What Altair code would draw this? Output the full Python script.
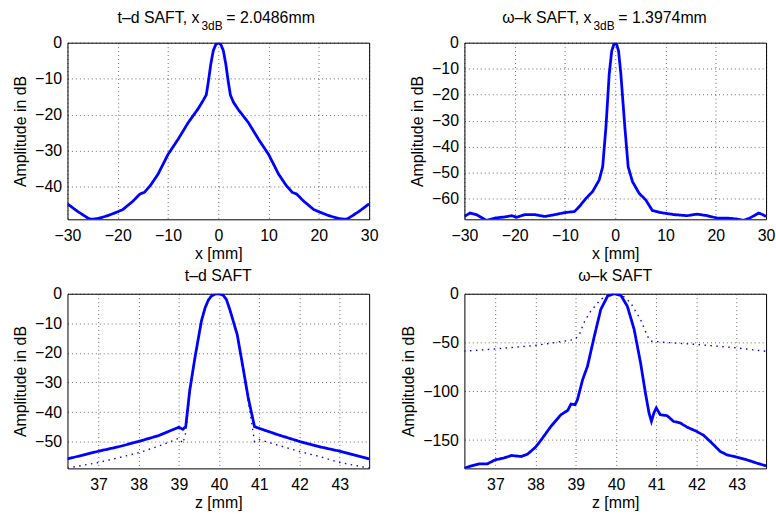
import altair as alt
import pandas as pd

# ---------------- data ----------------
# top-left: t-d SAFT lateral profile
tdl_x = [-30, -28, -26, -25.4, -24, -22, -20, -19, -17, -15.6, -14.7, -13.5, -12, -10, -8, -6, -4, -3, -2.4, -2,
         -1.5, -1, -0.5, 0, 0.5, 1, 1.5, 2, 2.4, 3, 4, 6, 8, 10, 12, 13.5, 14.7, 15.6, 17, 19, 20, 22, 24, 25.4,
         26, 28, 30]
tdl_db = [-44.7, -46.8, -48.6, -49.0, -48.8, -48.0, -46.9, -46.3, -44.0, -42.0, -41.5, -39.6, -36.5, -31.0, -26.8,
          -22.2, -18.3, -16.0, -14.5, -11.0, -6.0, -2.2, -0.5, 0, -0.5, -2.2, -6.0, -11.0, -14.5, -16.5, -18.6,
          -22.2, -26.8, -31.0, -36.5, -39.6, -41.5, -42.0, -44.0, -46.3, -46.9, -48.0, -48.8, -49.0, -48.6, -46.8,
          -44.7]

# top-right: omega-k SAFT lateral profile
wkl_x = [-30, -28.9, -27.6, -25.6, -23.9, -22, -20.6, -19.6, -18, -16, -14, -12, -10, -8.1, -7.1, -5.8, -4.5,
         -3.2, -2.5, -1.85, -1.2, -0.7, -0.3, 0, 0.3, 0.66, 1.12, 1.91, 2.57, 3.43, 4.75, 6.06, 7.38, 9.0, 11.7,
         14.3, 16.3, 18.3, 20.2, 22.2, 24.2, 25.5, 26.8, 28.5, 29.1, 30]
wkl_db = [-66.9, -65.6, -66.2, -68.4, -67.5, -67.1, -66.6, -67.2, -66.2, -66.2, -66.9, -66.2, -65.4, -65.0, -63.0,
          -59.9, -57.3, -52.9, -47.8, -32.5, -12.1, -3.2, -0.8, 0, -0.8, -3.2, -12.1, -32.5, -47.8, -53.5, -58.0,
          -60.5, -64.6, -65.4, -66.2, -66.6, -66.0, -66.6, -67.5, -67.5, -67.9, -68.4, -67.5, -65.6, -66.0, -66.9]

# bottom-left: t-d SAFT axial profile (solid and dotted)
tda_x = [36.23, 37.0, 37.5, 38.0, 38.5, 38.8, 39.0, 39.1, 39.17, 39.27, 39.4, 39.56, 39.65, 39.73, 39.8, 39.9,
         40.0, 40.1, 40.18, 40.27, 40.45, 40.6, 40.72, 40.88, 41.0, 41.5, 42.0, 42.5, 43.0, 43.73]
tda_db = [-55.8, -53.2, -51.7, -49.9, -47.9, -46.2, -45.1, -45.8, -44.9, -32.6, -21.5, -9.2, -4.8, -2.2, -0.9,
          -0.1, 0, -0.5, -1.9, -5.5, -13.8, -25.4, -34.9, -44.9, -45.5, -47.8, -49.9, -51.7, -53.2, -55.8]
tdd_x = [36.23, 37.0, 37.5, 38.0, 38.5, 39.0, 39.1, 39.17, 39.27, 39.4, 39.56, 39.65, 39.73, 39.8, 39.9, 40.0,
         40.1, 40.18, 40.27, 40.45, 40.6, 40.72, 40.82, 40.88, 41.0, 41.5, 42.0, 42.5, 43.0, 43.73]
tdd_db = [-58.9, -57.0, -55.4, -53.7, -51.5, -48.8, -50.5, -47.0, -33.5, -22.0, -9.5, -5.0, -2.4, -1.0, -0.1, 0,
          -0.5, -2.0, -5.7, -14.2, -26.0, -36.0, -44.5, -50.0, -49.3, -51.3, -53.3, -55.0, -57.0, -58.9]

# bottom-right: omega-k SAFT axial profile (solid and dotted)
wka_x = [36.22, 36.4, 36.6, 36.8, 37.0, 37.2, 37.4, 37.64, 37.8, 38.0, 38.14, 38.38, 38.63, 38.8, 38.88, 38.98,
         39.04, 39.17, 39.29, 39.46, 39.62, 39.79, 39.95, 40.12, 40.28, 40.45, 40.61, 40.73, 40.82, 40.88, 40.94,
         41.0, 41.1, 41.27, 41.43, 41.6, 41.76, 42.0, 42.18, 42.38, 42.59, 42.75, 43.0, 43.25, 43.5, 43.73]
wka_db = [-179, -176.4, -174.3, -174.3, -170.2, -168.5, -165.8, -166.8, -164.4, -157.2, -149.7, -136, -124, -119.5,
          -113, -113.7, -108.6, -88, -74.3, -43.5, -16.1, -2.4, 0, -1.7, -12.7, -36.6, -70.9, -101.7, -122.3,
          -130.8, -122.3, -117.1, -124, -125, -130.8, -132.5, -136.6, -141, -145.2, -153, -161.6, -165, -167.5,
          -170.2, -173.6, -176.4]
wkd_x = [36.22, 37.0, 38.0, 38.96, 39.08, 39.2, 39.37, 39.62, 39.83, 39.95, 40.12, 40.36, 40.61, 40.78, 40.86,
         41.19, 42.0, 43.0, 43.73]
wkd_db = [-58.9, -56.5, -53.0, -47.0, -42.8, -29.8, -17.8, -5.8, -0.5, 0, -0.5, -9.2, -26.4, -43.5, -48.6, -49.7,
          -52.0, -55.5, -59.0]

# texts
tl_title = ["t–d SAFT, x", "3dB", "= 2.0486mm"]
tr_title = ["ω–k SAFT, x", "3dB", "= 1.3974mm"]
bl_title = ["t–d SAFT"]
br_title = ["ω–k SAFT"]
x_title_top = "x [mm]"
x_title_bot = "z [mm]"
y_title = "Amplitude in dB"
x_ticks_top = [-30, -20, -10, 0, 10, 20, 30]
x_ticks_bot = [37, 38, 39, 40, 41, 42, 43]
y_ticks_tl = [0, -10, -20, -30, -40]
y_ticks_tr = [0, -10, -20, -30, -40, -50, -60]
y_ticks_bl = [0, -10, -20, -30, -40, -50]
y_ticks_br = [0, -50, -100, -150]

# ---------------- styling ----------------
FONT = "Liberation Sans"
BLUE = "#0000ff"
W = 304
H_TOP = 178
H_BOT = 176
FS = 16


def axis(values, title, orient):
    common = dict(
        values=values, title=title, grid=True, gridDash=[1, 3], gridColor="#000000",
        gridOpacity=0.75, gridWidth=0.8, domain=False, ticks=False, tickSize=0,
        labelFont=FONT, labelFontSize=FS, labelColor="black", labelFlush=False, labelOverlap=False,
        titleFont=FONT, titleFontSize=FS, titleFontWeight="normal", titleColor="black",
    )
    if orient == "x":
        common.update(labelPadding=8, titlePadding=2)
    else:
        common.update(labelPadding=6, titlePadding=6)
    return alt.Axis(**common)


def lines(x, y, xdom, ydom, xticks, yticks, xtitle, dotted=False):
    df = pd.DataFrame({"x": x, "y": y})
    df["idx"] = range(len(df))
    mark = alt.Chart(df).mark_line(
        color=BLUE,
        strokeWidth=1.4 if dotted else 2.8,
        strokeDash=[1.5, 4.5] if dotted else [1, 0],
        clip=True,
    )
    return mark.encode(
        x=alt.X("x:Q", scale=alt.Scale(domain=xdom, nice=False, zero=False),
                axis=axis(xticks, xtitle, "x")),
        y=alt.Y("y:Q", scale=alt.Scale(domain=ydom, nice=False, zero=False),
                axis=axis(yticks, y_title, "y")),
        order="idx:Q",
    )


def text(s, x, y, size, align):
    return alt.Chart(pd.DataFrame({"t": [s]})).mark_text(
        font=FONT, fontSize=size, align=align, baseline="alphabetic", color="black"
    ).encode(text="t:N", x=alt.value(x), y=alt.value(y))


def sub_title(parts, anchor):
    return [
        text(parts[0], anchor, -20, FS, "right"),
        text(parts[1], anchor + 2, -13, 12, "left"),
        text(parts[2], anchor + 27, -20, FS, "left"),
    ]


tl = alt.layer(
    lines(tdl_x, tdl_db, [-30, 30], [-49, 0], x_ticks_top, y_ticks_tl, x_title_top),
    *sub_title(tl_title, 133),
).properties(width=W, height=H_TOP)

tr = alt.layer(
    lines(wkl_x, wkl_db, [-30, 30], [-68, 0], x_ticks_top, y_ticks_tr, x_title_top),
    *sub_title(tr_title, 128),
).properties(width=W, height=H_TOP)

bl = alt.layer(
    lines(tda_x, tda_db, [36.23, 43.73], [-59, 0], x_ticks_bot, y_ticks_bl, x_title_bot),
    lines(tdd_x, tdd_db, [36.23, 43.73], [-59, 0], x_ticks_bot, y_ticks_bl, x_title_bot, dotted=True),
    text(bl_title[0], W / 2, -13, FS, "center"),
).properties(width=W, height=H_BOT)

br = alt.layer(
    lines(wka_x, wka_db, [36.23, 43.73], [-179, 0], x_ticks_bot, y_ticks_br, x_title_bot),
    lines(wkd_x, wkd_db, [36.23, 43.73], [-179, 0], x_ticks_bot, y_ticks_br, x_title_bot, dotted=True),
    text(br_title[0], W / 2, -13, FS, "center"),
).properties(width=W, height=H_BOT)

chart = alt.concat(
    tl, tr, bl, br, columns=2, spacing={"row": 75, "column": 96}, bounds="flush"
).properties(
    padding={"left": 12, "top": 7, "right": 0, "bottom": 7},
    background="white",
).configure_view(stroke="black", strokeWidth=1)

chart.save("out.html", embed_options={"renderer": "svg", "actions": False})
